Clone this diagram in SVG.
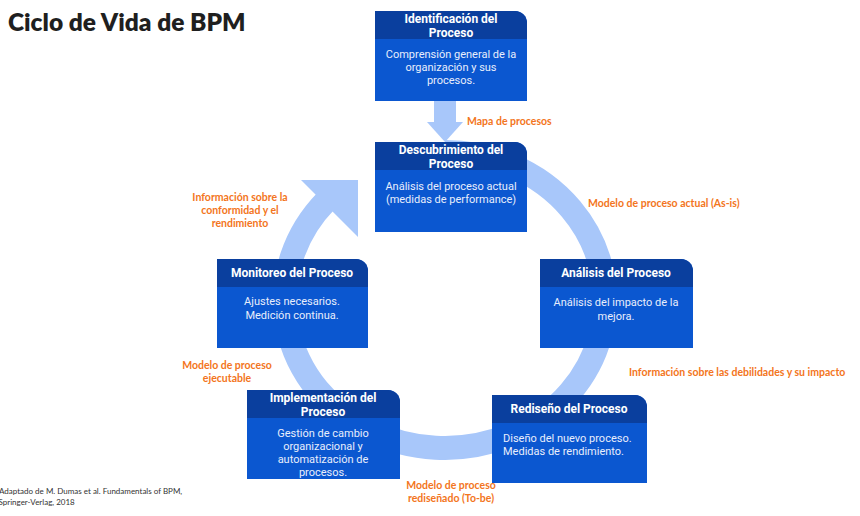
<svg xmlns="http://www.w3.org/2000/svg" width="860" height="516" viewBox="0 0 860 516">
<style>
.hdr{fill:#0a3f9e}
.body{fill:#0b57d0}
.ht{font-family:Roboto,"Liberation Sans",sans-serif;font-weight:bold;font-size:12px;fill:#ffffff;text-anchor:middle}
.bt{font-family:Roboto,"Liberation Sans",sans-serif;font-size:11px;fill:#e8eefc;text-anchor:middle}
.lbl{font-family:Lato,"Liberation Sans",sans-serif;font-weight:bold;font-size:10.5px;fill:#f37521}
.ring{fill:none;stroke:#a8c7fa;stroke-width:24}
.ah{fill:#a8c7fa}
</style>
<rect width="860" height="516" fill="#ffffff"/>
<text x="8" y="31" font-family="Lato,'Liberation Sans',sans-serif" font-weight="800" font-size="24.5" fill="#1f1f1f">Ciclo de Vida de BPM</text>
<g id="connectors">
  <path class="ring" d="M 445 152 A 160 148 0 1 1 326 201"/>
  <polygon class="ah" points="301,180 358,180 358,237"/>
  <rect class="ah" x="434" y="101" width="22" height="22"/>
  <polygon class="ah" points="427,122 463,122 445,142"/>
</g>
<g id="identificacion">
  <path class="body" d="M375 11 H515 A12 12 0 0 1 527 23 V101 H375 Z"/>
  <path class="hdr" d="M375 11 H515 A12 12 0 0 1 527 23 V39 H375 Z"/>
  <text class="ht" x="451" y="23">Identificación del</text>
  <text class="ht" x="451" y="37">Proceso</text>
  <text class="bt" x="451" y="58">Comprensión general de la</text>
  <text class="bt" x="451" y="71">organización y sus</text>
  <text class="bt" x="451" y="84">procesos.</text>
</g>
<g id="descubrimiento">
  <path class="body" d="M375 142 H515 A12 12 0 0 1 527 154 V232 H375 Z"/>
  <path class="hdr" d="M375 142 H515 A12 12 0 0 1 527 154 V170 H375 Z"/>
  <text class="ht" x="451" y="154">Descubrimiento del</text>
  <text class="ht" x="451" y="168">Proceso</text>
  <text class="bt" x="451" y="190">Análisis del proceso actual</text>
  <text class="bt" x="451" y="203">(medidas de performance)</text>
</g>
<g id="analisis">
  <path class="body" d="M540 259 H681 A12 12 0 0 1 693 271 V348 H540 Z"/>
  <path class="hdr" d="M540 259 H681 A12 12 0 0 1 693 271 V287 H540 Z"/>
  <text class="ht" x="616" y="277">Análisis del Proceso</text>
  <text class="bt" x="616" y="306">Análisis del impacto de la</text>
  <text class="bt" x="616" y="320">mejora.</text>
</g>
<g id="monitoreo">
  <path class="body" d="M217 259 H356 A12 12 0 0 1 368 271 V348 H217 Z"/>
  <path class="hdr" d="M217 259 H356 A12 12 0 0 1 368 271 V287 H217 Z"/>
  <text class="ht" x="292" y="277">Monitoreo del Proceso</text>
  <text class="bt" x="292" y="305">Ajustes necesarios.</text>
  <text class="bt" x="292" y="319">Medición continua.</text>
</g>
<g id="implementacion">
  <path class="body" d="M247 390 H388 A12 12 0 0 1 400 402 V479 H247 Z"/>
  <path class="hdr" d="M247 390 H388 A12 12 0 0 1 400 402 V418 H247 Z"/>
  <text class="ht" x="323" y="402">Implementación del</text>
  <text class="ht" x="323" y="416">Proceso</text>
  <text class="bt" x="323" y="437">Gestión de cambio</text>
  <text class="bt" x="323" y="450">organizacional y</text>
  <text class="bt" x="323" y="463">automatización de</text>
  <text class="bt" x="323" y="476">procesos.</text>
</g>
<g id="rediseno">
  <path class="body" d="M492 395 H635 A12 12 0 0 1 647 407 V483 H492 Z"/>
  <path class="hdr" d="M492 395 H635 A12 12 0 0 1 647 407 V423 H492 Z"/>
  <text class="ht" x="569" y="413">Rediseño del Proceso</text>
  <text class="bt" x="503" y="442" style="text-anchor:start">Diseño del nuevo proceso.</text>
  <text class="bt" x="503" y="455" style="text-anchor:start">Medidas de rendimiento.</text>
</g>
<g id="labels">
  <text class="lbl" x="467" y="125">Mapa de procesos</text>
  <text class="lbl" x="588" y="207">Modelo de proceso actual (As-is)</text>
  <text class="lbl" x="240" y="201" text-anchor="middle">Información sobre la</text>
  <text class="lbl" x="240" y="214" text-anchor="middle">conformidad y el</text>
  <text class="lbl" x="240" y="227" text-anchor="middle">rendimiento</text>
  <text class="lbl" x="629" y="376">Información sobre las debilidades y su impacto</text>
  <text class="lbl" x="227" y="369" text-anchor="middle">Modelo de proceso</text>
  <text class="lbl" x="227" y="382" text-anchor="middle">ejecutable</text>
  <text class="lbl" x="451" y="489" text-anchor="middle">Modelo de proceso</text>
  <text class="lbl" x="451" y="502" text-anchor="middle">rediseñado (To-be)</text>
</g>
<g id="footnote" font-family="Lato,'Liberation Sans',sans-serif" font-size="8" fill="#333333">
  <text x="-1" y="494">Adaptado de M. Dumas et al. Fundamentals of BPM,</text>
  <text x="-1.5" y="505">Springer-Verlag, 2018</text>
</g>
</svg>
